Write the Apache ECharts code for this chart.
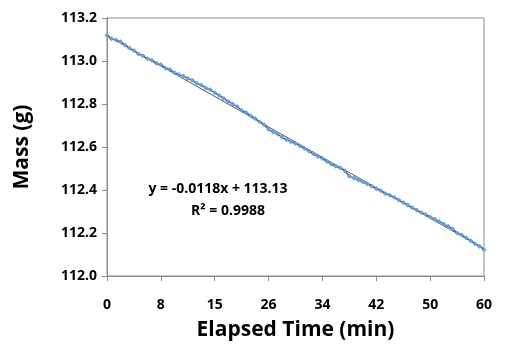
<!DOCTYPE html>
<html>
<head>
<meta charset="utf-8">
<script src="https://cdn.jsdelivr.net/npm/echarts@6/dist/echarts.min.js"></script>
<style>html,body{margin:0;padding:0;background:#fff}#c{width:522px;height:346px}</style>
</head>
<body>
<div id="c"></div>
<script>
// Measurement index (one per sample) and tick labels of elapsed time (min)
var tickLabels = ['0', '8', '15', '26', '34', '42', '50', '60'];
var tickStep = 12; // samples between labelled ticks
var mass = [
  113.120, 113.104, 113.098, 113.090, 113.075, 113.060, 113.049, 113.033, 113.024, 113.010,
  113.003, 112.990, 112.982, 112.968, 112.960, 112.946, 112.937, 112.930, 112.919, 112.910,
  112.896, 112.888, 112.874, 112.866, 112.852, 112.840, 112.826, 112.812, 112.800, 112.788,
  112.771, 112.760, 112.745, 112.733, 112.718, 112.703, 112.682, 112.670, 112.660, 112.645,
  112.634, 112.624, 112.616, 112.605, 112.593, 112.580, 112.567, 112.556, 112.546, 112.533,
  112.520, 112.510, 112.502, 112.490, 112.464, 112.456, 112.447, 112.437, 112.428, 112.417,
  112.406, 112.396, 112.384, 112.376, 112.366, 112.353, 112.342, 112.330, 112.318, 112.307,
  112.295, 112.286, 112.275, 112.265, 112.254, 112.242, 112.231, 112.220, 112.200, 112.192,
  112.178, 112.164, 112.150, 112.138, 112.122
];
var trendSlope = -0.0118;
var trendIntercept = 113.13;
var eqText = 'y = -0.0118x + 113.13';
var r2Text = 'R² = 0.9988';

var seriesData = mass.map(function (v, i) { return [i, v]; });
var n = mass.length;
var trendData = [
  [0, trendIntercept + trendSlope * 1],
  [n - 1, trendIntercept + trendSlope * n]
];

var chart = echarts.init(document.getElementById('c'), null, { renderer: 'canvas' });
var font = '"Open Sans", "Liberation Sans", sans-serif';
chart.setOption({
  animation: false,
  backgroundColor: '#fff',
  grid: { left: 107, right: 38, top: 18, bottom: 70, containLabel: false, outerBoundsMode: 'none', show: true, borderColor: '#8c8c8c', borderWidth: 1, backgroundColor: 'transparent' },
  xAxis: {
    type: 'value', min: 0, max: n - 1, interval: tickStep,
    name: 'Elapsed Time (min)', nameLocation: 'middle', nameGap: 44,
    nameTextStyle: { fontFamily: font, fontWeight: 700, fontSize: 21, color: '#000' },
    axisLine: { show: true, lineStyle: { color: '#8c8c8c' } },
    axisTick: { show: true, length: 5, lineStyle: { color: '#8c8c8c' } },
    splitLine: { show: false },
    axisLabel: {
      fontFamily: font, fontWeight: 700, fontSize: 14, color: '#000', margin: 22,
      formatter: function (v) { var k = Math.round(v / tickStep); return tickLabels[k] || ''; }
    }
  },
  yAxis: {
    type: 'value', min: 112, max: 113.2, interval: 0.2,
    name: 'Mass (g)', nameLocation: 'middle', nameGap: 74, nameRotate: 90,
    nameTextStyle: { fontFamily: font, fontWeight: 700, fontSize: 21, color: '#000' },
    axisLine: { show: true, lineStyle: { color: '#8c8c8c' } },
    axisTick: { show: true, length: 5, lineStyle: { color: '#8c8c8c' } },
    splitLine: { show: false },
    axisLabel: {
      fontFamily: font, fontWeight: 700, fontSize: 14, color: '#000', margin: 10,
      formatter: function (v) { return v.toFixed(1); }
    }
  },
  series: [
    {
      type: 'line', data: seriesData, symbol: 'diamond', symbolSize: 5, showSymbol: true,
      lineStyle: { color: '#2d5288', width: 1.3 },
      itemStyle: { color: '#6f9fd8', borderWidth: 0 },
      z: 3
    },
    {
      type: 'line', data: trendData, symbol: 'none',
      lineStyle: { color: '#5a5a5a', width: 1 },
      z: 2
    }
  ],
  graphic: [
    { type: 'text', style: { text: eqText, x: 218, y: 189, textAlign: 'center', textVerticalAlign: 'middle', font: 'bold 14px ' + font, fill: '#000' } },
    { type: 'text', style: { text: r2Text, x: 228, y: 211, textAlign: 'center', textVerticalAlign: 'middle', font: 'bold 14px ' + font, fill: '#000' } }
  ]
});
</script>
</body>
</html>
